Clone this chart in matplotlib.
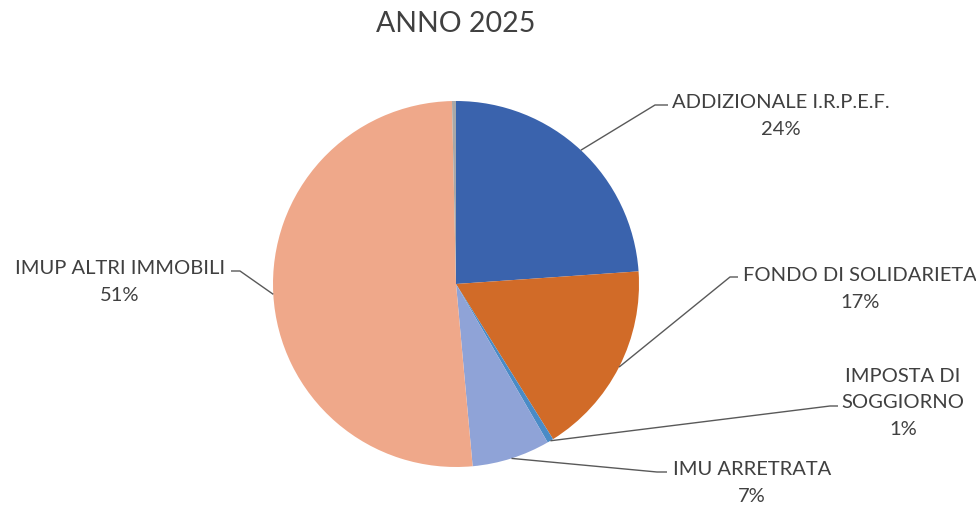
import numpy as np
import matplotlib.pyplot as plt

# share of each revenue item (percent)
categories = ['ADDIZIONALE I.R.P.E.F.', 'FONDO DI SOLIDARIETA', 'IMPOSTA DI\nSOGGIORNO',
              'IMU ARRETRATA', 'IMUP ALTRI IMMOBILI', 'ALTRO']
values = [23.9, 17.2, 0.55, 6.9, 51.1, 0.35]
colors = ['#3A63AD', '#D16B28', '#4A8BC6', '#8FA3D7', '#EFA88A', '#A8A8A8']
show_label = [True, True, True, True, True, False]

W, H = 976, 506

fig = plt.figure(figsize=(9.76, 5.06), dpi=100)
ax = fig.add_axes([0, 0, 1, 1])

cx, cy, r = 456, H - 285, 183
wedges, _ = ax.pie(values, colors=colors, startangle=90, counterclock=False,
                   center=(cx, cy), radius=r, frame=True,
                   wedgeprops=dict(linewidth=0))

# label layout in pixel coords (y from top): elbow point, elbow end, text center
layout = {
    0: ((655, 106), (668, 106), (781, 116)),
    1: ((730, 278), (738, 278), (860, 289)),
    2: ((830, 407), (838, 407), (903, 403)),
    3: ((657, 473), (667, 473), (752, 483)),
    4: ((240, 272), (231, 272), (120, 282)),
}

txt_color = '#404040'
for i, w in enumerate(wedges):
    if not show_label[i]:
        continue
    ang = np.deg2rad((w.theta1 + w.theta2) / 2)
    sx, sy = cx + r * np.cos(ang), cy + r * np.sin(ang)
    (ex, ey), (hx, hy), (tx, ty) = layout[i]
    ax.plot([sx, ex, hx], [sy, H - ey, H - hy], color='#595959', lw=1.0,
            solid_capstyle='butt', zorder=3)
    label = f"{categories[i]}\n{values[i]:.0f}%"
    ax.text(tx, H - ty, label, ha='center', va='center', fontsize=14.5,
            family=['Lato', 'DejaVu Sans'], color=txt_color, linespacing=1.65)

ax.text(456, H - 24, 'ANNO 2025', ha='center', va='center', fontsize=20.5,
        family=['Lato', 'DejaVu Sans'], color=txt_color)

ax.set_xlim(0, W)
ax.set_ylim(0, H)
ax.set_aspect('equal')
ax.axis('off')

fig.savefig('out.png', dpi=100, facecolor='white')
